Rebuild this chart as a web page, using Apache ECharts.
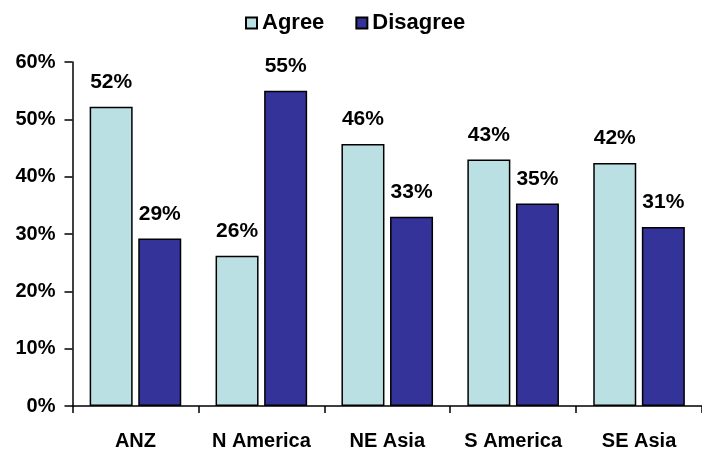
<!DOCTYPE html>
<html>
<head>
<meta charset="utf-8">
<script src="https://cdn.jsdelivr.net/npm/echarts@6/dist/echarts.min.js"></script>
<style>html,body{margin:0;padding:0;background:#fff}#c{width:702px;height:455px}</style>
</head>
<body>
<div id="c"></div>
<script>
const categories = ['ANZ', 'N America', 'NE Asia', 'S America', 'SE Asia'];
const agree = [52.2, 26.2, 45.7, 43.0, 42.4];
const disagree = [29.2, 55.0, 33.0, 35.3, 31.2];
const seriesNames = ['Agree', 'Disagree'];

const FONT = 'Liberation Sans';
const chart = echarts.init(document.getElementById('c'), null, {renderer: 'canvas'});
const labelCfg = {
  show: true, position: 'top', distance: 14,
  color: '#000', fontFamily: FONT, fontWeight: 'bold', fontSize: 21,
  formatter: p => Math.round(p.value) + '%'
};
chart.setOption({
  animation: false,
  backgroundColor: '#fff',
  legend: {
    top: 7, left: 240,
    icon: 'rect', itemWidth: 11, itemHeight: 11, itemGap: 31,
    textStyle: {fontFamily: FONT, fontWeight: 'bold', fontSize: 22, color: '#000'},
    data: seriesNames
  },
  grid: {left: 72.5, right: -6, top: 62, bottom: 49, containLabel: false},
  xAxis: {
    type: 'category', data: categories,
    axisLine: {lineStyle: {color: '#000', width: 1.5}},
    axisTick: {show: true, length: 7, interval: 0, alignWithLabel: false, lineStyle: {color: '#000', width: 1.5}},
    axisLabel: {margin: 25, interval: 0, color: '#000', fontFamily: FONT, fontWeight: 'bold', fontSize: 20},
    splitLine: {show: false}
  },
  yAxis: {
    type: 'value', min: 0, max: 60, interval: 10,
    axisLine: {show: true, lineStyle: {color: '#000', width: 1.5}},
    axisTick: {show: true, length: 8, lineStyle: {color: '#000', width: 1.5}},
    axisLabel: {margin: 17, color: '#000', fontFamily: FONT, fontWeight: 'bold', fontSize: 20, formatter: '{value}%'},
    splitLine: {show: false}
  },
  series: [
    {name: seriesNames[0], type: 'bar', data: agree, barWidth: 43, barGap: '13%',
     itemStyle: {color: '#BBE0E3', borderColor: '#000', borderWidth: 1.5}, label: labelCfg},
    {name: seriesNames[1], type: 'bar', data: disagree, barWidth: 43, barGap: '13%',
     itemStyle: {color: '#333399', borderColor: '#000', borderWidth: 1.5}, label: labelCfg}
  ]
});
</script>
</body>
</html>
